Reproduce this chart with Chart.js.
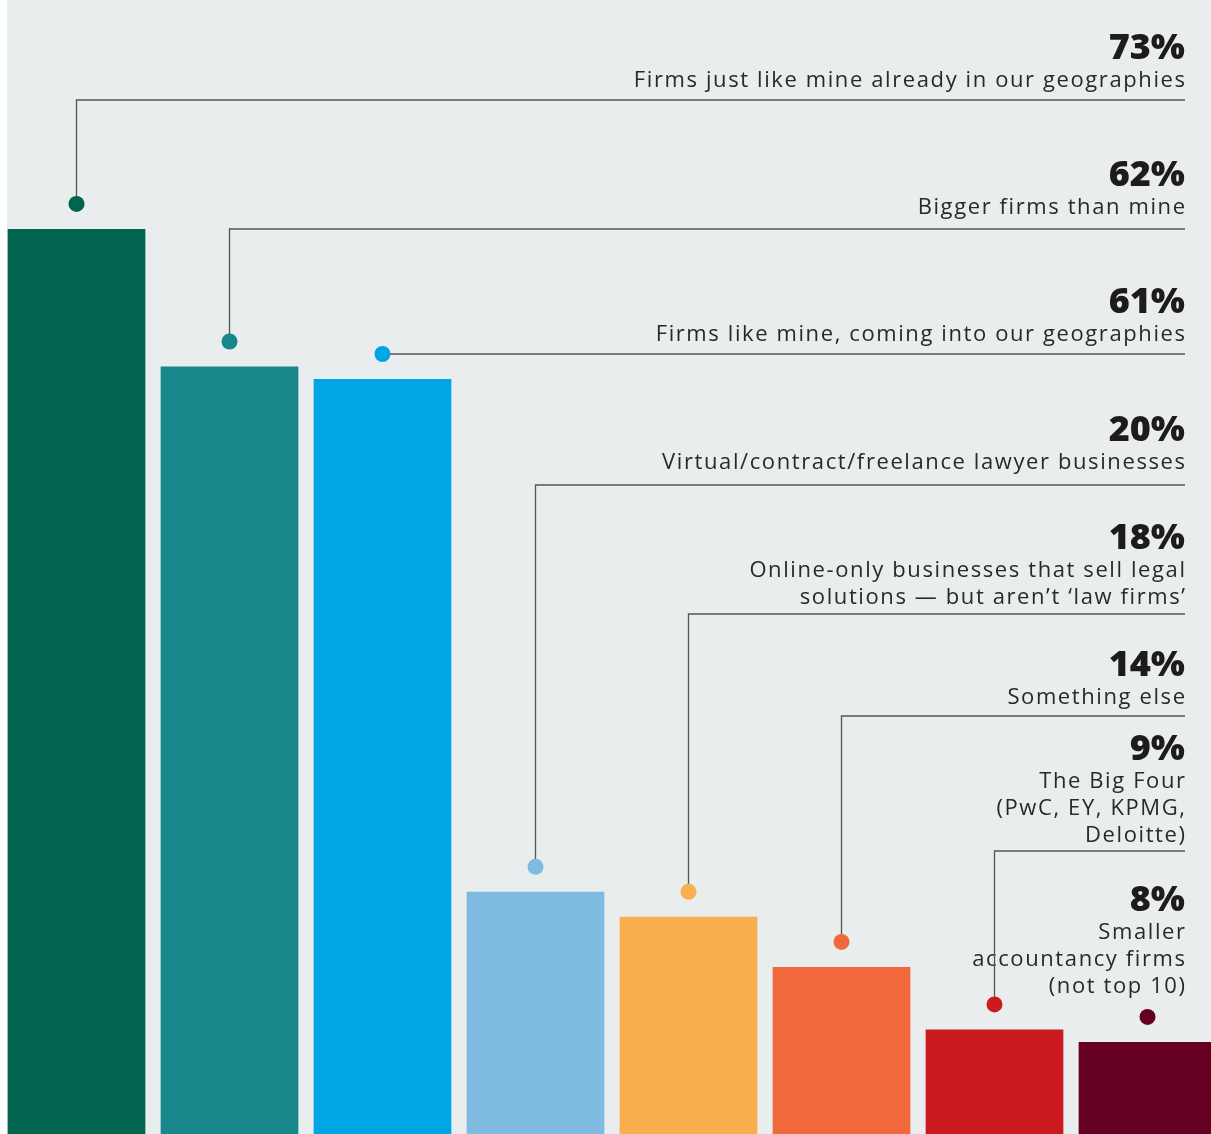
<!DOCTYPE html>
<html>
<head>
<meta charset="utf-8">
<script src="https://cdn.jsdelivr.net/npm/chart.js@4"></script>
<style>
  html, body { margin: 0; padding: 0; background: #ffffff; overflow: hidden; }
  #wrap { position: relative; width: 1211px; height: 1134px; overflow: hidden; }
  canvas { position: absolute; left: 0; top: 0; display: block; }
</style>
</head>
<body>
<div id="wrap"><canvas id="c" width="1224" height="1134"></canvas></div>
<script>
// ---- data ----
const categories = [
  "Firms just like mine already in our geographies",
  "Bigger firms than mine",
  "Firms like mine, coming into our geographies",
  "Virtual/contract/freelance lawyer businesses",
  "Online-only businesses that sell legal solutions — but aren’t ‘law firms’",
  "Something else",
  "The Big Four (PwC, EY, KPMG, Deloitte)",
  "Smaller accountancy firms (not top 10)"
];
const values = [73, 62, 61, 20, 18, 14, 9, 8];
const pctLabels = ["73%", "62%", "61%", "20%", "18%", "14%", "9%", "8%"];
const labelLines = [
  ["Firms just like mine already in our geographies"],
  ["Bigger firms than mine"],
  ["Firms like mine, coming into our geographies"],
  ["Virtual/contract/freelance lawyer businesses"],
  ["Online-only businesses that sell legal", "solutions — but aren’t ‘law firms’"],
  ["Something else"],
  ["The Big Four", "(PwC, EY, KPMG,", "Deloitte)"],
  ["Smaller", "accountancy firms", "(not top 10)"]
];
const colors = ["#00644f", "#17878c", "#00a5e3", "#7fbae0", "#f9af4f", "#f0683b", "#cc1a21", "#650022"];

// ---- layout (annotation placement) ----
const layout = {
  textRight: 1185,
  pctBaseline: [59, 186, 313, 441, 549, 676, 760, 911],
  leaderY: [100, 229, null, 485, 614, 716, 851, undefined], // null = horizontal at dot level, undefined = no leader
  lineGap: 27,
  firstGap: 28,
  dotOffset: 25,
  dotRadius: 8
};

const bgPlugin = {
  id: 'bg',
  beforeDraw(chart) {
    const ctx = chart.ctx;
    ctx.save();
    ctx.fillStyle = '#e9edee';
    ctx.fillRect(7, 0, chart.width - 7, chart.height);
    ctx.restore();
  }
};

const leaderPlugin = {
  id: 'leaders',
  afterDatasetsDraw(chart) {
    const ctx = chart.ctx;
    const meta = chart.getDatasetMeta(0);
    ctx.save();
    ctx.textAlign = 'right';
    ctx.textBaseline = 'alphabetic';
    for (let i = 0; i < values.length; i++) {
      const b = layout.pctBaseline[i];
      ctx.fillStyle = '#1e1b1c';
      ctx.letterSpacing = '0px';
      ctx.font = '800 36px "Open Sans"';
      ctx.fillText(pctLabels[i], layout.textRight, b);
      ctx.fillStyle = '#2b2829';
      ctx.font = '400 22px "Open Sans"';
      ctx.letterSpacing = '1.6px';
      labelLines[i].forEach((ln, k) => {
        ctx.fillText(ln, layout.textRight + 1.6, b + layout.firstGap + k * layout.lineGap);
      });
    }
    ctx.letterSpacing = '0px';
    for (let i = 0; i < values.length; i++) {
      const el = meta.data[i];
      const x = el.x;
      const dy = el.y - layout.dotOffset;
      const ly = layout.leaderY[i];
      ctx.strokeStyle = '#555555';
      ctx.lineWidth = 1.3;
      if (ly === null) {
        ctx.beginPath();
        ctx.moveTo(x, dy);
        ctx.lineTo(layout.textRight, dy);
        ctx.stroke();
      } else if (ly !== undefined) {
        ctx.beginPath();
        ctx.moveTo(x, dy);
        ctx.lineTo(x, ly);
        ctx.lineTo(layout.textRight, ly);
        ctx.stroke();
      }
      ctx.fillStyle = colors[i];
      ctx.beginPath();
      ctx.arc(x, dy, layout.dotRadius, 0, Math.PI * 2);
      ctx.fill();
    }
    ctx.restore();
  }
};

new Chart(document.getElementById('c'), {
  type: 'bar',
  data: {
    labels: categories,
    datasets: [{
      data: values,
      backgroundColor: colors,
      borderWidth: 0,
      barPercentage: 0.9,
      categoryPercentage: 1.0
    }]
  },
  options: {
    responsive: false,
    animation: false,
    devicePixelRatio: 1,
    layout: { padding: 0 },
    plugins: { legend: { display: false }, tooltip: { enabled: false }, title: { display: false } },
    scales: {
      x: { display: false, offset: true, grid: { display: false } },
      y: { display: false, min: 0.64, max: 91.3, grid: { display: false } }
    }
  },
  plugins: [bgPlugin, leaderPlugin]
});
</script>
</body>
</html>
